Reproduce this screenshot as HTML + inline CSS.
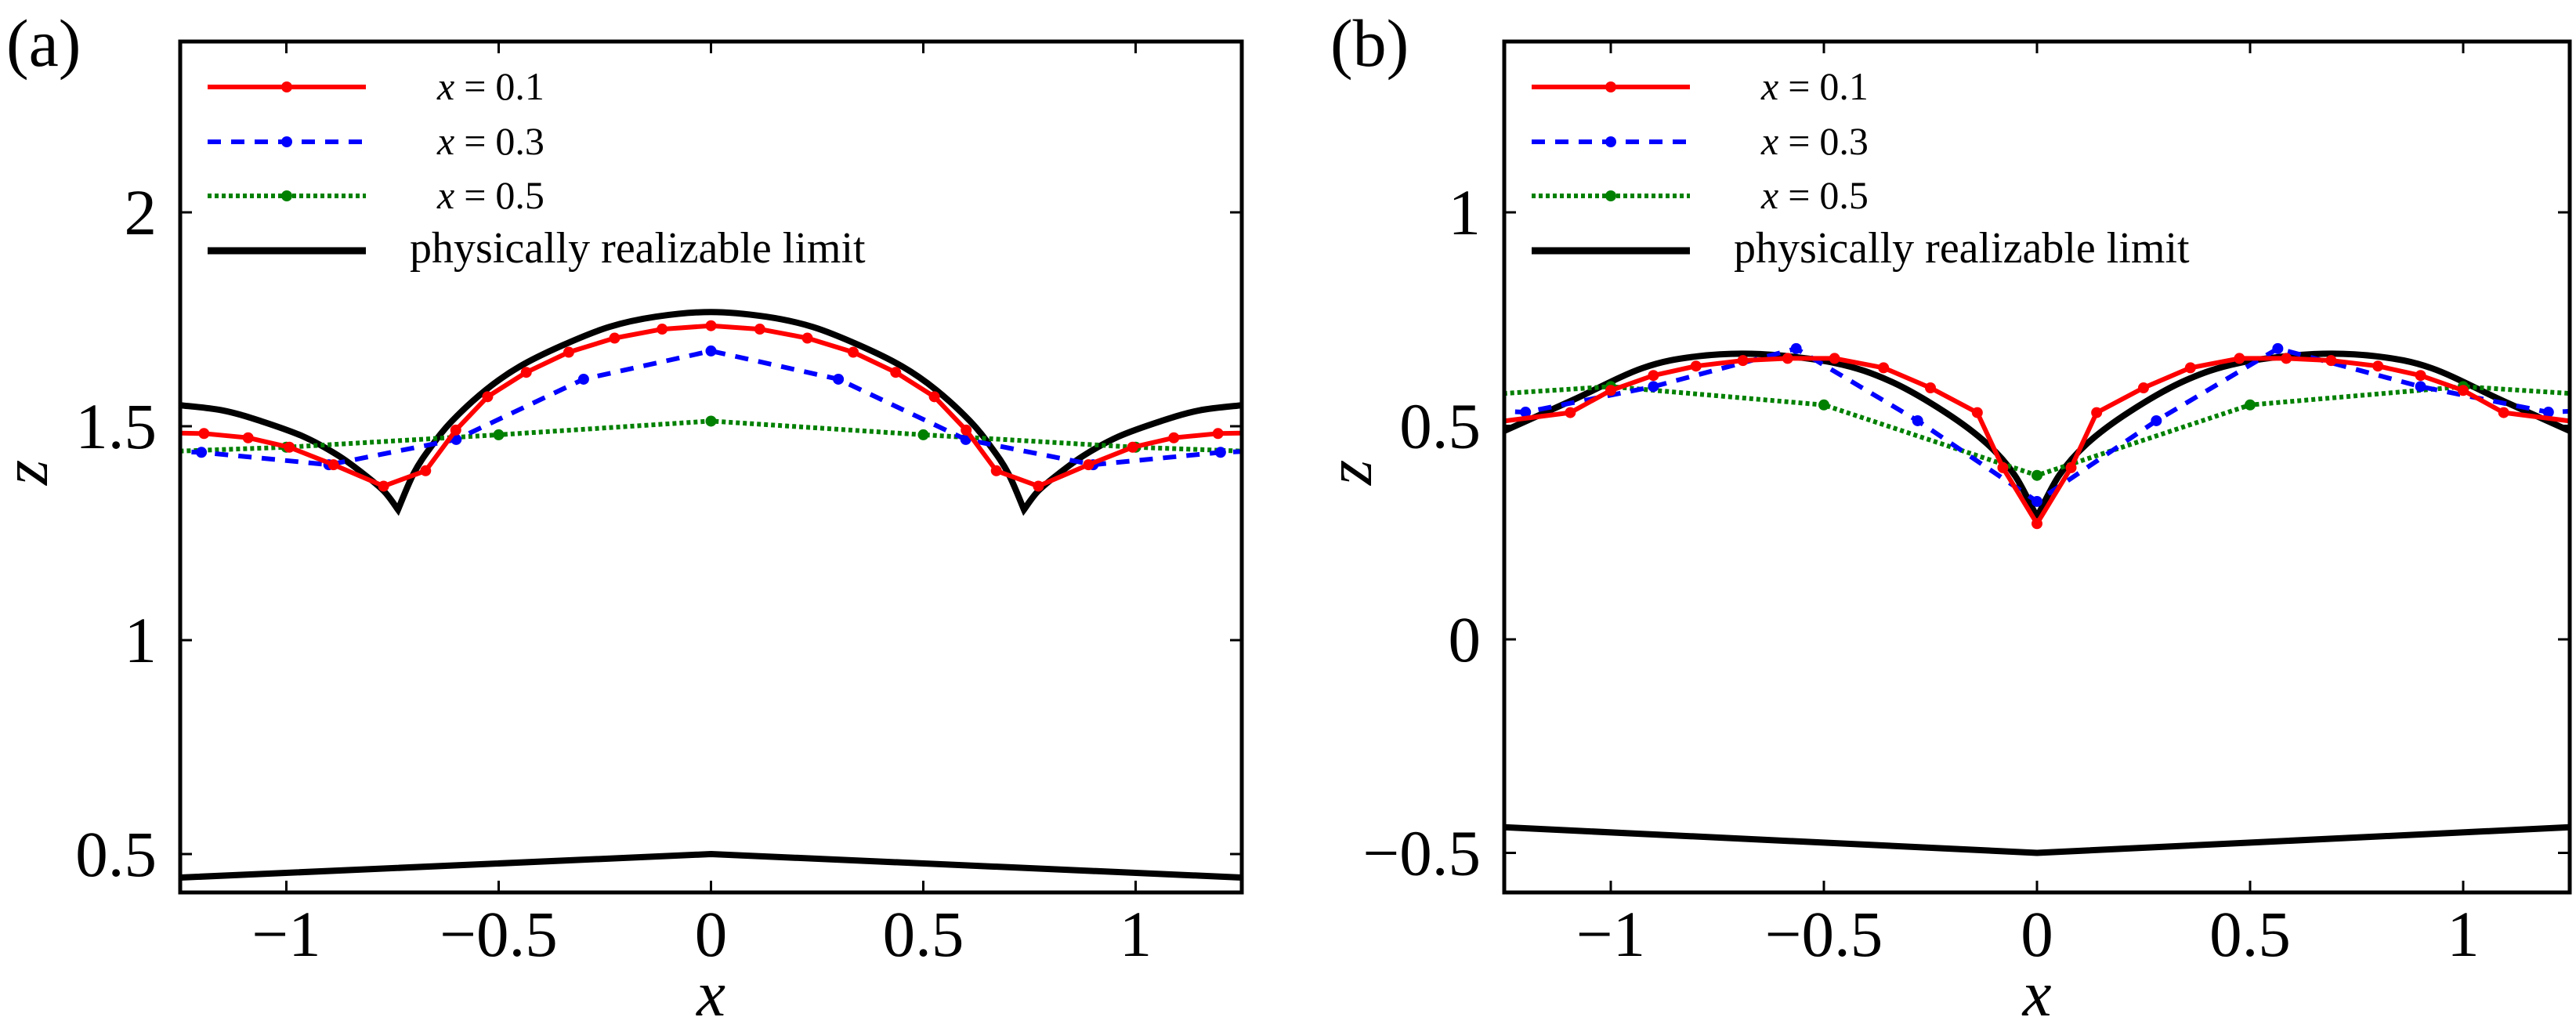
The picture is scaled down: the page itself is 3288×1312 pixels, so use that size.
<!DOCTYPE html>
<html><head><meta charset="utf-8"><style>
html,body{margin:0;padding:0;background:#fff;}
svg{display:block;font-family:"Liberation Serif",serif;}
</style></head>
<body>
<svg id="fig" width="3288" height="1312" viewBox="0 0 3288 1312" xmlns="http://www.w3.org/2000/svg">
<defs>
<clipPath id="clipA"><rect x="230" y="53" width="1355" height="1086"/></clipPath>
<clipPath id="clipB"><rect x="1920" y="53" width="1360" height="1086"/></clipPath>
</defs>
<g id="panelA"></g>
<g id="panelB"></g>
</svg>
<script>
// x ticks
const xTicks = [-1, -0.5, 0, 0.5, 1];
const xTickLabels = ["\u22121", "\u22120.5", "0", "0.5", "1"];
// Panel (a)
const aYTicks = [0.5, 1, 1.5, 2];
const aYTickLabels = ["0.5", "1", "1.5", "2"];
const aRedX = [-1.30,-1.194,-1.09,-0.993,-0.889,-0.771,-0.672,-0.601,-0.526,-0.435,-0.335,-0.227,-0.115,0,0.115,0.227,0.335,0.435,0.526,0.601,0.672,0.771,0.889,0.993,1.09,1.194,1.30];
const aRedZ = [1.485,1.483,1.473,1.451,1.410,1.360,1.396,1.491,1.569,1.626,1.673,1.706,1.727,1.735,1.727,1.706,1.673,1.626,1.569,1.491,1.396,1.360,1.410,1.451,1.473,1.483,1.485];
const aBlueX = [-1.5,-1.2,-0.9,-0.6,-0.3,0,0.3,0.6,0.9,1.2,1.5];
const aBlueZ = [1.45,1.439,1.410,1.469,1.610,1.676,1.610,1.469,1.410,1.439,1.45];
const aGreenX = [-1.5,-1,-0.5,0,0.5,1,1.5];
const aGreenZ = [1.433,1.451,1.480,1.512,1.480,1.451,1.433];
const aLimitX = [-1.25,-1.15,-1.06,-0.96,-0.88,-0.82,-0.77,-0.737,-0.70,-0.66,-0.61,-0.53,-0.45,-0.35,-0.24,-0.13,0,0.13,0.24,0.35,0.45,0.53,0.61,0.66,0.70,0.737,0.77,0.82,0.88,0.96,1.06,1.15,1.25];
const aLimitZ = [1.549,1.537,1.512,1.476,1.433,1.390,1.348,1.305,1.390,1.451,1.512,1.585,1.640,1.689,1.732,1.756,1.767,1.756,1.732,1.689,1.640,1.585,1.512,1.451,1.390,1.305,1.348,1.390,1.433,1.476,1.512,1.537,1.549];
const aLimitCusps = [7, 25];
const aLowX = [-1.25, 0, 1.25];
const aLowZ = [0.445, 0.5, 0.445];
// Panel (b)
const bYTicks = [-0.5, 0, 0.5, 1];
const bYTickLabels = ["\u22120.5", "0", "0.5", "1"];
const bRedX = [-1.30,-1.095,-1.0,-0.90,-0.80,-0.69,-0.585,-0.475,-0.36,-0.25,-0.14,-0.08,0,0.08,0.14,0.25,0.36,0.475,0.585,0.69,0.80,0.90,1.0,1.095,1.30];
const bRedZ = [0.505,0.531,0.583,0.618,0.640,0.653,0.658,0.658,0.636,0.589,0.531,0.402,0.271,0.402,0.531,0.589,0.636,0.658,0.658,0.653,0.640,0.618,0.583,0.531,0.505];
const bBlueX = [-1.5,-1.2,-0.9,-0.565,-0.28,0,0.28,0.565,0.9,1.2,1.5];
const bBlueZ = [0.545,0.532,0.592,0.681,0.512,0.323,0.512,0.681,0.592,0.532,0.545];
const bGreenX = [-1.5,-1,-0.5,0,0.5,1,1.5];
const bGreenZ = [0.56,0.592,0.549,0.384,0.549,0.592,0.56];
const bLimitX = [-1.25,-1.088,-0.926,-0.796,-0.65,-0.473,-0.343,-0.214,-0.117,-0.052,0,0.052,0.117,0.214,0.343,0.473,0.65,0.796,0.926,1.088,1.25];
const bLimitZ = [0.488,0.561,0.635,0.663,0.668,0.647,0.604,0.531,0.458,0.384,0.286,0.384,0.458,0.531,0.604,0.647,0.668,0.663,0.635,0.561,0.488];
const bLimitCusps = [10];
const bLowX = [-1.25, 0, 1.25];
const bLowZ = [-0.44, -0.5, -0.44];

const NS = "http://www.w3.org/2000/svg";
function mk(tag, attrs, parent){const e=document.createElementNS(NS,tag);for(const k in attrs)e.setAttribute(k,attrs[k]);parent.appendChild(e);return e;}

// Catmull-Rom smoothing, breaking at cusp indices
function smoothPath(P, cusps){
  let d = 'M'+P[0][0].toFixed(1)+','+P[0][1].toFixed(1);
  const segStart = [0].concat(cusps), segEnd = cusps.concat([P.length-1]);
  for(let s=0;s<segStart.length;s++){
    const a=segStart[s], b=segEnd[s];
    for(let i=a;i<b;i++){
      const p0 = i===a ? P[i] : P[i-1];
      const p1 = P[i], p2 = P[i+1];
      const p3 = (i+1===b) ? P[i+1] : P[i+2];
      const c1=[p1[0]+(p2[0]-p0[0])/6, p1[1]+(p2[1]-p0[1])/6];
      const c2=[p2[0]-(p3[0]-p1[0])/6, p2[1]-(p3[1]-p1[1])/6];
      d+=' C'+c1[0].toFixed(1)+','+c1[1].toFixed(1)+' '+c2[0].toFixed(1)+','+c2[1].toFixed(1)+' '+p2[0].toFixed(1)+','+p2[1].toFixed(1);
    }
  }
  return d;
}

function drawPanel(g, cfg){
  const L=cfg.left,R=cfg.right,T=53,B=1139;
  const sx = x => (L+R)/2 + x*(R-L)/2.5;
  const sy = cfg.sy;
  const clip = mk('g',{'clip-path':'url(#'+cfg.clip+')'},g);
  function series(X,Z,color,width,dash,markers,name){
    const pts = X.map((x,i)=>sx(x).toFixed(1)+','+sy(Z[i]).toFixed(1)).join(' ');
    const pl = mk('polyline',{points:pts,fill:'none',stroke:color,'stroke-width':width,'stroke-linejoin':'round'},clip);
    if(dash) pl.setAttribute('stroke-dasharray',dash);
    
    
    if(markers){
      X.forEach((x,i)=>{
        const c = mk('circle',{cx:sx(x),cy:sy(Z[i]),r:7,fill:color},clip);
        
        
      });
    }
  }
  const limPts = cfg.limX.map((x,i)=>[sx(x), sy(cfg.limZ[i])]);
  const lim = mk('path',{d:smoothPath(limPts,cfg.cusps),fill:'none',stroke:'#000','stroke-width':8,'stroke-linejoin':'miter'},clip);
  
  
  series(cfg.lowX,cfg.lowZ,'#000',8,null,false,'limit-lower-curve');
  series(cfg.greenX,cfg.greenZ,'#008000',6,'5 4',true,'series-x0.5');
  series(cfg.blueX,cfg.blueZ,'#0000ff',6,'17 13',true,'series-x0.3');
  series(cfg.redX,cfg.redZ,'#ff0000',6,null,true,'series-x0.1');
  const box = mk('rect',{x:L,y:T,width:R-L,height:B-T,fill:'none',stroke:'#000','stroke-width':5},g);
  
  
  xTicks.forEach((t,i)=>{
    const x=sx(t);
    mk('line',{x1:x,y1:B,x2:x,y2:B-15,stroke:'#000','stroke-width':3},g);
    mk('line',{x1:x,y1:T,x2:x,y2:T+15,stroke:'#000','stroke-width':3},g);
    const tx = mk('text',{x:x,y:1220,'font-size':83,'text-anchor':'middle'},g);
    tx.textContent = xTickLabels[i];
    
    
  });
  cfg.yTicks.forEach((t,i)=>{
    const y=sy(t);
    mk('line',{x1:L,y1:y,x2:L+15,y2:y,stroke:'#000','stroke-width':3},g);
    mk('line',{x1:R,y1:y,x2:R-15,y2:y,stroke:'#000','stroke-width':3},g);
    const tx = mk('text',{x:L-30,y:y+28,'font-size':83,'text-anchor':'end'},g);
    tx.textContent = cfg.yLabels[i];
    
    
  });
  const xl = mk('text',{x:(L+R)/2,y:1296,'font-size':83,'font-style':'italic','text-anchor':'middle'},g);
  xl.textContent='x';
  
  
  const yl = mk('text',{x:0,y:0,'font-size':83,'font-style':'italic','text-anchor':'middle',transform:'translate('+(L-170)+',603) rotate(-90)'},g);
  yl.textContent='z';
  
  
  const pl = mk('text',{x:L-222,y:84,'font-size':86},g);
  pl.textContent=cfg.label;
  
  
  const lx = L+35;
  const entries=[['#ff0000',null,'0.1'],['#0000ff','17 13','0.3'],['#008000','5 4','0.5']];
  const ly=[111,181,250];
  entries.forEach((e,i)=>{
    const lg = mk('g',{},g);
    
    
    const ln = mk('line',{x1:lx,y1:ly[i],x2:lx+202,y2:ly[i],stroke:e[0],'stroke-width':6},lg);
    if(e[1]) ln.setAttribute('stroke-dasharray',e[1]);
    mk('circle',{cx:lx+101,cy:ly[i],r:7,fill:e[0]},lg);
    const t = mk('text',{x:lx+293,y:ly[i]+16,'font-size':50},lg);
    const it = mk('tspan',{'font-style':'italic'},t); it.textContent='x';
    const eq = mk('tspan',{dx:12},t); eq.textContent='=';
    const v = mk('tspan',{dx:12},t); v.textContent='0.'+e[2].slice(2);
  });
  const lg = mk('g',{},g);
  
  
  mk('line',{x1:lx,y1:320,x2:lx+202,y2:320,stroke:'#000','stroke-width':9},lg);
  const t = mk('text',{x:lx+258,y:335,'font-size':56},lg);
  t.textContent='physically realizable limit';
}

drawPanel(document.getElementById('panelA'),{left:230,right:1585,clip:'clipA',
  sy:z=>1090-(z-0.5)*546, yTicks:aYTicks, yLabels:aYTickLabels, label:'(a)',
  redX:aRedX,redZ:aRedZ,blueX:aBlueX,blueZ:aBlueZ,greenX:aGreenX,greenZ:aGreenZ,
  limX:aLimitX,limZ:aLimitZ,cusps:aLimitCusps,lowX:aLowX,lowZ:aLowZ});
drawPanel(document.getElementById('panelB'),{left:1920,right:3280,clip:'clipB',
  sy:z=>816-z*545, yTicks:bYTicks, yLabels:bYTickLabels, label:'(b)',
  redX:bRedX,redZ:bRedZ,blueX:bBlueX,blueZ:bBlueZ,greenX:bGreenX,greenZ:bGreenZ,
  limX:bLimitX,limZ:bLimitZ,cusps:bLimitCusps,lowX:bLowX,lowZ:bLowZ});
</script>
</body></html>
